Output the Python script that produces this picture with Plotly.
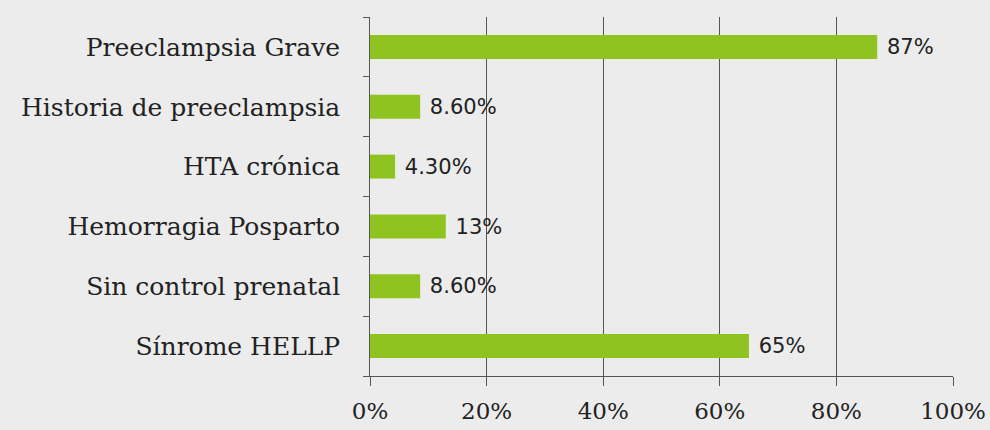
import plotly.graph_objects as go

# Risk factors (top to bottom as displayed) and their percentages
categories = [
    "Preeclampsia Grave",
    "Historia de preeclampsia",
    "HTA crónica",
    "Hemorragia Posparto",
    "Sin control prenatal",
    "Sínrome HELLP",
]
values = [87, 8.6, 4.3, 13, 8.6, 65]
value_labels = ["87%", "8.60%", "4.30%", "13%", "8.60%", "65%"]
x_ticks = [0, 20, 40, 60, 80, 100]
x_tick_labels = ["0%", "20%", "40%", "60%", "80%", "100%"]

bg = "#ECECEC"
bar_color = "#8FC31F"
axis_color = "#555555"

fig = go.Figure(
    go.Bar(
        y=categories,
        x=values,
        orientation="h",
        marker=dict(color=bar_color, line=dict(width=0)),
        width=0.4,
        text=value_labels,
        texttemplate=" %{text}",
        textposition="outside",
        cliponaxis=False,
        textfont=dict(family="DejaVu Sans", size=22, color="#222222"),
    )
)

fig.update_layout(
    width=990,
    height=430,
    margin=dict(l=370, r=37, t=17, b=54, autoexpand=False),
    paper_bgcolor=bg,
    plot_bgcolor=bg,
    showlegend=False,
    xaxis=dict(
        range=[0, 100],
        tickvals=x_ticks,
        ticktext=x_tick_labels,
        showgrid=True,
        gridcolor=axis_color,
        gridwidth=1,
        zeroline=False,
        showline=True,
        linecolor=axis_color,
        linewidth=1,
        ticks="outside",
        ticklen=9,
        tickcolor=axis_color,
        ticklabelstandoff=5,
        tickfont=dict(family="DejaVu Serif", size=23, color="#222222"),
        automargin=False,
        fixedrange=True,
    ),
    yaxis=dict(
        categoryorder="array",
        categoryarray=categories[::-1],
        showline=True,
        linecolor=axis_color,
        linewidth=1,
        ticks="outside",
        tickson="boundaries",
        ticklen=6,
        tickcolor=axis_color,
        showgrid=False,
        ticksuffix="   ",
        tickfont=dict(family="DejaVu Serif", size=25, color="#222222"),
        automargin=False,
        fixedrange=True,
    ),
)

fig.write_html("out.html")
